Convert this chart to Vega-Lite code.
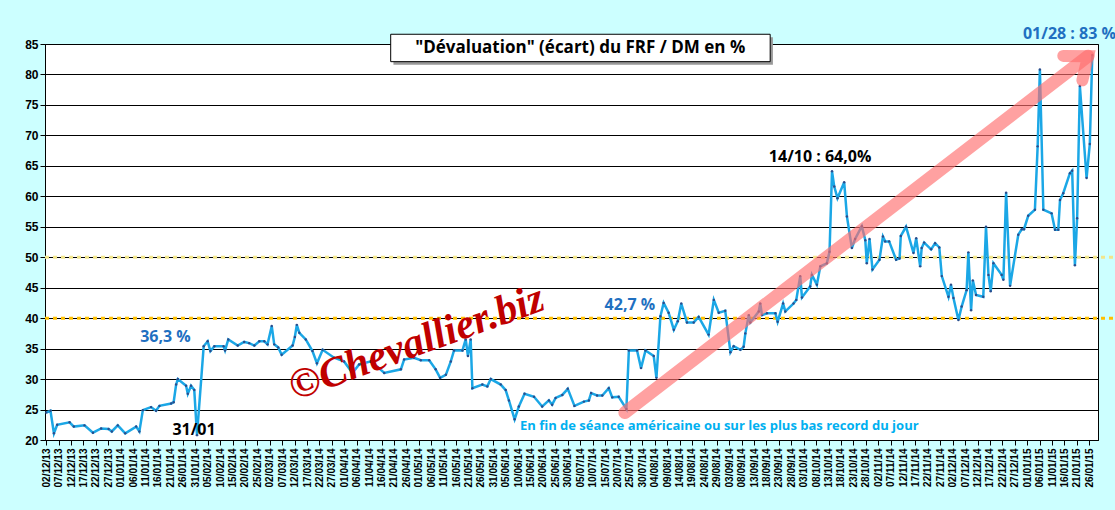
{
  "$schema": "https://vega.github.io/schema/vega-lite/v6.json",
  "description": "Dévaluation (écart) du FRF / DM en %",
  "autosize": "none",
  "width": 1053,
  "height": 396,
  "padding": {"left": 45, "top": 44, "right": 17, "bottom": 70},
  "background": "#CCFFFF",
  "config": {
    "view": {"fill": "white", "stroke": "black"},
    "font": "Liberation Sans"
  },
  "datasets": {
    "serie": [
      {"jour": 0, "ecart": 24.5}, {"jour": 1.7, "ecart": 24.8}, {"jour": 3.1, "ecart": 21.1}, {"jour": 4.4, "ecart": 22.5},
      {"jour": 9.4, "ecart": 22.9}, {"jour": 11.1, "ecart": 22.2}, {"jour": 15.4, "ecart": 22.4}, {"jour": 18.8, "ecart": 21.2},
      {"jour": 22.1, "ecart": 21.9}, {"jour": 25.1, "ecart": 21.8}, {"jour": 26.4, "ecart": 21.4}, {"jour": 28.8, "ecart": 22.4},
      {"jour": 31.8, "ecart": 21.1}, {"jour": 36.2, "ecart": 22.2}, {"jour": 37.5, "ecart": 21.4}, {"jour": 38.9, "ecart": 24.9},
      {"jour": 42.2, "ecart": 25.4}, {"jour": 44.2, "ecart": 24.8}, {"jour": 45.6, "ecart": 25.6}, {"jour": 50.3, "ecart": 26.0},
      {"jour": 51.3, "ecart": 26.2}, {"jour": 52.3, "ecart": 29.1}, {"jour": 53.0, "ecart": 30.0}, {"jour": 56.3, "ecart": 28.9},
      {"jour": 57.0, "ecart": 27.6}, {"jour": 58.3, "ecart": 28.9}, {"jour": 59.6, "ecart": 28.2}, {"jour": 60.7, "ecart": 20.8},
      {"jour": 63.4, "ecart": 35.4}, {"jour": 65.0, "ecart": 36.2}, {"jour": 66.1, "ecart": 34.6}, {"jour": 67.7, "ecart": 35.4},
      {"jour": 71.4, "ecart": 35.4}, {"jour": 72.0, "ecart": 34.7}, {"jour": 73.3, "ecart": 36.5}, {"jour": 77.1, "ecart": 35.5},
      {"jour": 79.7, "ecart": 36.1}, {"jour": 81.7, "ecart": 35.9}, {"jour": 83.8, "ecart": 35.5}, {"jour": 85.8, "ecart": 36.2},
      {"jour": 87.8, "ecart": 36.2}, {"jour": 89.1, "ecart": 35.7}, {"jour": 90.8, "ecart": 38.7}, {"jour": 91.8, "ecart": 35.7},
      {"jour": 93.4, "ecart": 35.2}, {"jour": 94.8, "ecart": 34.0}, {"jour": 99.2, "ecart": 35.5}, {"jour": 100.1, "ecart": 36.9},
      {"jour": 100.9, "ecart": 38.9}, {"jour": 101.9, "ecart": 37.6}, {"jour": 104.5, "ecart": 36.5}, {"jour": 107.2, "ecart": 34.6},
      {"jour": 109.0, "ecart": 32.6}, {"jour": 111.3, "ecart": 34.8}, {"jour": 115.9, "ecart": 33.5}, {"jour": 119.9, "ecart": 32.9},
      {"jour": 123.3, "ecart": 31.0}, {"jour": 126.0, "ecart": 32.4}, {"jour": 130.7, "ecart": 32.9}, {"jour": 133.4, "ecart": 32.0},
      {"jour": 136.1, "ecart": 31.0}, {"jour": 142.8, "ecart": 31.6}, {"jour": 144.1, "ecart": 33.2}, {"jour": 148.1, "ecart": 33.5},
      {"jour": 150.8, "ecart": 33.1}, {"jour": 154.2, "ecart": 33.1}, {"jour": 156.8, "ecart": 31.6}, {"jour": 158.6, "ecart": 30.2},
      {"jour": 160.9, "ecart": 30.7}, {"jour": 162.9, "ecart": 32.9}, {"jour": 164.2, "ecart": 34.7}, {"jour": 167.6, "ecart": 34.7},
      {"jour": 168.9, "ecart": 36.5}, {"jour": 169.8, "ecart": 33.8}, {"jour": 170.9, "ecart": 36.5}, {"jour": 171.6, "ecart": 28.5},
      {"jour": 175.6, "ecart": 29.1}, {"jour": 177.6, "ecart": 28.8}, {"jour": 179.0, "ecart": 30.0}, {"jour": 183.0, "ecart": 29.1},
      {"jour": 185.0, "ecart": 28.2}, {"jour": 186.3, "ecart": 26.5}, {"jour": 188.6, "ecart": 23.4}, {"jour": 190.3, "ecart": 25.5},
      {"jour": 192.6, "ecart": 27.6}, {"jour": 196.4, "ecart": 27.1}, {"jour": 199.7, "ecart": 25.5}, {"jour": 202.4, "ecart": 26.5},
      {"jour": 203.7, "ecart": 25.8}, {"jour": 205.1, "ecart": 26.9}, {"jour": 207.8, "ecart": 27.4}, {"jour": 210.0, "ecart": 28.4},
      {"jour": 212.7, "ecart": 25.6}, {"jour": 216.5, "ecart": 26.3}, {"jour": 218.5, "ecart": 26.5}, {"jour": 219.4, "ecart": 27.7},
      {"jour": 221.8, "ecart": 27.3}, {"jour": 223.9, "ecart": 27.3}, {"jour": 226.5, "ecart": 28.5}, {"jour": 227.9, "ecart": 27.0},
      {"jour": 230.5, "ecart": 27.1}, {"jour": 233.6, "ecart": 25.1}, {"jour": 234.6, "ecart": 34.7}, {"jour": 237.9, "ecart": 34.7},
      {"jour": 239.5, "ecart": 31.8}, {"jour": 241.3, "ecart": 34.7}, {"jour": 244.6, "ecart": 33.8}, {"jour": 245.7, "ecart": 30.2},
      {"jour": 247.3, "ecart": 40.3}, {"jour": 248.6, "ecart": 42.5}, {"jour": 250.6, "ecart": 40.9}, {"jour": 252.7, "ecart": 38.1},
      {"jour": 254.3, "ecart": 39.5}, {"jour": 255.7, "ecart": 42.4}, {"jour": 258.0, "ecart": 39.3}, {"jour": 260.7, "ecart": 39.3},
      {"jour": 262.7, "ecart": 40.2}, {"jour": 266.7, "ecart": 37.3}, {"jour": 268.8, "ecart": 43.0}, {"jour": 270.8, "ecart": 40.9},
      {"jour": 273.4, "ecart": 41.2}, {"jour": 275.5, "ecart": 34.4}, {"jour": 276.8, "ecart": 35.4}, {"jour": 279.5, "ecart": 34.8},
      {"jour": 280.8, "ecart": 35.3}, {"jour": 281.5, "ecart": 37.5}, {"jour": 282.9, "ecart": 40.5}, {"jour": 283.5, "ecart": 39.3},
      {"jour": 286.9, "ecart": 41.1}, {"jour": 287.5, "ecart": 42.4}, {"jour": 288.2, "ecart": 40.5}, {"jour": 290.2, "ecart": 40.8},
      {"jour": 293.6, "ecart": 40.8}, {"jour": 294.5, "ecart": 39.4}, {"jour": 296.7, "ecart": 42.4}, {"jour": 297.6, "ecart": 41.1},
      {"jour": 300.9, "ecart": 42.4}, {"jour": 302.0, "ecart": 43.0}, {"jour": 303.6, "ecart": 46.9}, {"jour": 304.3, "ecart": 43.4},
      {"jour": 307.6, "ecart": 45.2}, {"jour": 308.3, "ecart": 47.1}, {"jour": 310.3, "ecart": 45.5}, {"jour": 311.7, "ecart": 48.5},
      {"jour": 314.3, "ecart": 49.0}, {"jour": 315.4, "ecart": 50.9}, {"jour": 316.4, "ecart": 64.1}, {"jour": 317.3, "ecart": 61.6},
      {"jour": 318.6, "ecart": 59.7}, {"jour": 321.3, "ecart": 62.3}, {"jour": 322.4, "ecart": 56.7}, {"jour": 324.4, "ecart": 51.5},
      {"jour": 325.7, "ecart": 53.0}, {"jour": 328.4, "ecart": 55.1}, {"jour": 329.8, "ecart": 52.8}, {"jour": 330.4, "ecart": 49.0},
      {"jour": 331.5, "ecart": 53.0}, {"jour": 332.7, "ecart": 48.0}, {"jour": 335.5, "ecart": 49.6}, {"jour": 336.9, "ecart": 53.4},
      {"jour": 337.8, "ecart": 52.6}, {"jour": 339.4, "ecart": 52.6}, {"jour": 342.2, "ecart": 49.6}, {"jour": 343.6, "ecart": 49.8},
      {"jour": 344.1, "ecart": 53.5}, {"jour": 346.2, "ecart": 55.0}, {"jour": 349.2, "ecart": 50.7}, {"jour": 350.3, "ecart": 53.1},
      {"jour": 351.9, "ecart": 48.5}, {"jour": 352.5, "ecart": 51.5}, {"jour": 353.5, "ecart": 52.4}, {"jour": 356.3, "ecart": 51.3},
      {"jour": 357.9, "ecart": 52.3}, {"jour": 359.6, "ecart": 51.6}, {"jour": 360.6, "ecart": 46.9}, {"jour": 363.3, "ecart": 43.5},
      {"jour": 364.3, "ecart": 45.5}, {"jour": 365.3, "ecart": 43.3}, {"jour": 367.3, "ecart": 39.7}, {"jour": 368.6, "ecart": 41.9},
      {"jour": 370.6, "ecart": 44.6}, {"jour": 371.3, "ecart": 50.8}, {"jour": 372.4, "ecart": 41.3}, {"jour": 373.1, "ecart": 46.2},
      {"jour": 374.4, "ecart": 43.8}, {"jour": 377.3, "ecart": 43.5}, {"jour": 378.4, "ecart": 55.0}, {"jour": 379.4, "ecart": 47.1},
      {"jour": 380.3, "ecart": 44.4}, {"jour": 381.4, "ecart": 49.0}, {"jour": 384.7, "ecart": 47.1}, {"jour": 385.4, "ecart": 46.3},
      {"jour": 386.5, "ecart": 60.6}, {"jour": 388.1, "ecart": 45.3}, {"jour": 391.4, "ecart": 53.7}, {"jour": 392.8, "ecart": 54.6},
      {"jour": 393.7, "ecart": 54.6}, {"jour": 395.4, "ecart": 56.8}, {"jour": 398.1, "ecart": 57.8}, {"jour": 399.2, "ecart": 68.2},
      {"jour": 400.1, "ecart": 80.8}, {"jour": 401.5, "ecart": 57.8}, {"jour": 404.8, "ecart": 57.2}, {"jour": 406.2, "ecart": 54.5},
      {"jour": 407.5, "ecart": 54.5}, {"jour": 408.2, "ecart": 59.4}, {"jour": 409.5, "ecart": 60.5}, {"jour": 412.2, "ecart": 63.8},
      {"jour": 413.1, "ecart": 64.2}, {"jour": 414.2, "ecart": 48.7}, {"jour": 415.1, "ecart": 56.4}, {"jour": 416.2, "ecart": 78.1},
      {"jour": 418.9, "ecart": 63.0}, {"jour": 420.2, "ecart": 68.6}, {"jour": 421.2, "ecart": 83.2}
    ]
  },
  "encoding": {
    "x": {
      "field": "jour", "type": "quantitative",
      "scale": {"domain": [-0.5, 423.5], "nice": false, "zero": false},
      "axis": {
        "title": null, "grid": false,
        "values": [0,5,10,15,20,25,30,35,40,45,50,55,60,65,70,75,80,85,90,95,100,105,110,115,120,125,130,135,140,145,150,155,160,165,170,175,180,185,190,195,200,205,210,215,220,225,230,235,240,245,250,255,260,265,270,275,280,285,290,295,300,305,310,315,320,325,330,335,340,345,350,355,360,365,370,375,380,385,390,395,400,405,410,415,420],
        "labelExpr": "timeFormat(datetime(2013, 11, 2 + datum.value), '%d/%m/%y')",
        "labelAngle": -90, "labelFontSize": 10, "labelFontWeight": "bold", "labelColor": "black",
        "domainColor": "black", "tickColor": "black", "labelPadding": 3
      }
    },
    "y": {
      "field": "ecart", "type": "quantitative",
      "scale": {"domain": [20, 85], "nice": false, "zero": false},
      "axis": {
        "title": null, "values": [20,25,30,35,40,45,50,55,60,65,70,75,80,85],
        "gridColor": "black", "gridOpacity": 1, "labelFontSize": 12, "labelFontWeight": "bold",
        "labelColor": "black", "domainColor": "black", "tickColor": "black"
      }
    }
  },
  "layer": [
    {
      "data": {"values": [{"niveau": 40, "couleur": "#FFC000"}, {"niveau": 50, "couleur": "#F2E68C"}]},
      "mark": {"type": "rule", "strokeWidth": 3, "strokeDash": [4, 4], "clip": false},
      "encoding": {
        "x": {"value": 0}, "x2": {"value": 1070},
        "y": {"field": "niveau", "type": "quantitative"},
        "color": {"field": "couleur", "type": "nominal", "scale": null}
      }
    },
    {
      "data": {"name": "serie"},
      "mark": {"type": "line", "color": "#1BA7E6", "strokeWidth": 2.5}
    },
    {
      "data": {"name": "serie"},
      "mark": {"type": "point", "filled": true, "color": "#2B4C8C", "size": 6, "opacity": 1}
    },
    {
      "data": {"values": [{"jour": 233, "ecart": 24.5}, {"jour": 419.5, "ecart": 83.0}]},
      "mark": {"type": "line", "color": "#FF6E6E", "strokeWidth": 13, "opacity": 0.65, "strokeCap": "round"},
      "encoding": {}
    },
    {
      "data": {"values": [{"jour": 419.5, "ecart": 83.0}]},
      "mark": {"type": "point", "shape": "M -1 -0.8 L 0 0 L -1 0.8", "filled": false, "color": "#FF6E6E", "strokeWidth": 12, "opacity": 0.65, "size": 1500, "angle": 322, "strokeCap": "round", "strokeJoin": "miter", "clip": false},
      "encoding": {}
    },
    {
      "data": {"values": [{"jour": 149, "ecart": 36, "texte": "©Chevallier.biz"}]},
      "mark": {"type": "text", "font": "Liberation Serif", "fontStyle": "italic", "fontWeight": "bold", "fontSize": 42, "color": "#C00000", "angle": 340, "align": "center", "baseline": "middle"},
      "encoding": {"text": {"field": "texte"}}
    },
    {
      "data": {"values": [{"x1": 139.8, "x2": 292.6, "y1": 81.6, "y2": 86.1}]},
      "mark": {"type": "rect", "fill": "#999999", "clip": false},
      "encoding": {
        "x": {"field": "x1", "type": "quantitative"}, "x2": {"field": "x2"},
        "y": {"field": "y1", "type": "quantitative"}, "y2": {"field": "y2"}
      }
    },
    {
      "data": {"values": [{"x1": 138.7, "x2": 291.5, "y1": 82.1, "y2": 86.6}]},
      "mark": {"type": "rect", "fill": "white", "stroke": "black", "strokeWidth": 1, "clip": false},
      "encoding": {
        "x": {"field": "x1", "type": "quantitative"}, "x2": {"field": "x2"},
        "y": {"field": "y1", "type": "quantitative"}, "y2": {"field": "y2"}
      }
    },
    {
      "data": {"values": [
        {"jour": 215, "ecart": 84.3, "texte": "\"Dévaluation\"  (écart) du FRF / DM en %", "couleur": "black", "taille": 17},
        {"jour": 48, "ecart": 36.9, "texte": "36,3 %", "couleur": "#1F70C1", "taille": 16},
        {"jour": 59.5, "ecart": 21.6, "texte": "31/01", "couleur": "black", "taille": 16},
        {"jour": 235, "ecart": 42.1, "texte": "42,7 %", "couleur": "#1F70C1", "taille": 16},
        {"jour": 311.6, "ecart": 66.5, "texte": "14/10 : 64,0%", "couleur": "black", "taille": 16},
        {"jour": 412, "ecart": 86.7, "texte": "01/28 : 83 %", "couleur": "#1F70C1", "taille": 16},
        {"jour": 271, "ecart": 22.3, "texte": "En fin de séance américaine ou sur les plus bas record du jour", "couleur": "#00B0F0", "taille": 13}
      ]},
      "mark": {"type": "text", "fontWeight": "bold", "align": "center", "baseline": "middle", "clip": false, "font": "Open Sans"},
      "encoding": {
        "text": {"field": "texte"},
        "color": {"field": "couleur", "type": "nominal", "scale": null},
        "size": {"field": "taille", "type": "quantitative", "scale": null}
      }
    }
  ]
}
